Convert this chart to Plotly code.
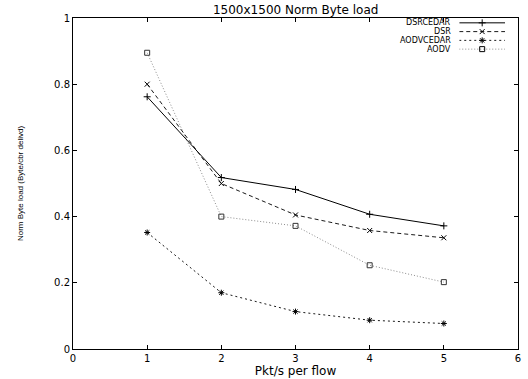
import plotly.graph_objects as go

x_vals = [1, 2, 3, 4, 5]
dsrcedar = [0.762, 0.518, 0.482, 0.407, 0.372]
dsr = [0.800, 0.500, 0.405, 0.358, 0.336]
aodvcedar = [0.352, 0.170, 0.113, 0.087, 0.077]
aodv = [0.895, 0.400, 0.372, 0.253, 0.202]

series_names = ["DSRCEDAR", "DSR", "AODVCEDAR", "AODV"]
series_vals = [dsrcedar, dsr, aodvcedar, aodv]
styles = [
    dict(color="#000000", dash="solid", symbol="cross-thin-open", msize=5, mcolor="#000000"),
    dict(color="#1a1a1a", dash="4px,3px", symbol="x-thin-open", msize=5, mcolor="#000000"),
    dict(color="#1a1a1a", dash="2px,3px", symbol="asterisk-open", msize=5, mcolor="#000000"),
    dict(color="#8c8c8c", dash="1px,2px", symbol="square-open", msize=5, mcolor="#333333"),
]
FONT = "DejaVu Sans, Liberation Sans, Arial"

fig = go.Figure()
for name, vals, st in zip(series_names, series_vals, styles):
    fig.add_trace(go.Scatter(
        x=x_vals, y=vals, mode="lines+markers", name=name, showlegend=False,
        line=dict(color=st["color"], dash=st["dash"], width=1),
        marker=dict(symbol=st["symbol"], size=st["msize"], color=st["mcolor"],
                    line=dict(width=1, color=st["mcolor"])),
    ))

# gnuplot-style legend (text left of the line sample), on an overlay axis
y2_dom = [0.8927, 0.9986]
y2_rng = [3.5, -0.5]
x2_dom = [0.868, 0.971]
for i, (name, st) in enumerate(zip(series_names, styles)):
    yy = float(i)
    fig.add_trace(go.Scatter(
        x=[0, 1], y=[yy, yy], mode="lines", xaxis="x2", yaxis="y2", showlegend=False,
        line=dict(color=st["color"], dash=st["dash"], width=1), hoverinfo="skip"))
    fig.add_trace(go.Scatter(
        x=[0.5], y=[yy], mode="markers", xaxis="x2", yaxis="y2", showlegend=False,
        marker=dict(symbol=st["symbol"], size=st["msize"], color="#000000",
                    line=dict(width=1, color="#000000")), hoverinfo="skip"))
    py = y2_dom[0] + (y2_rng[0] - yy) / (y2_rng[0] - y2_rng[1]) * (y2_dom[1] - y2_dom[0])
    fig.add_annotation(x=x2_dom[0] - 0.015, y=py, xref="paper", yref="paper", text=name,
                       showarrow=False, xanchor="right", yanchor="middle",
                       font=dict(family=FONT, size=8, color="#000"))

fig.update_layout(
    width=528, height=379,
    margin=dict(l=73, r=7, t=18, b=21),
    paper_bgcolor="white", plot_bgcolor="white",
    title=dict(text="1500x1500 Norm Byte load", x=0.56, xanchor="center", y=0.986, yanchor="top",
               font=dict(family=FONT, size=12, color="#000")),
    font=dict(family=FONT, size=10, color="#000"),
    xaxis=dict(range=[0, 6], dtick=1, showgrid=False, zeroline=False, showline=True, linecolor="#000",
               linewidth=1, mirror="ticks", ticks="inside", ticklen=4, tickcolor="#000",
               title=dict(text="Pkt/s per flow", standoff=0, font=dict(family=FONT, size=12)),
               tickfont=dict(family=FONT, size=10)),
    yaxis=dict(range=[0, 1], dtick=0.2, showgrid=False, zeroline=False, showline=True, linecolor="#000",
               linewidth=1, mirror="ticks", ticks="inside", ticklen=4, tickcolor="#000",
               title=dict(text="Norm Byte load (Byte/cbr delivd)", standoff=29,
                          font=dict(family="Liberation Sans, Arial", size=8)),
               tickfont=dict(family=FONT, size=10)),
    xaxis2=dict(domain=x2_dom, range=[0, 1], visible=False, anchor="y2", fixedrange=True),
    yaxis2=dict(domain=y2_dom, range=y2_rng, visible=False, anchor="x2", fixedrange=True),
)

fig.write_html("out.html")
